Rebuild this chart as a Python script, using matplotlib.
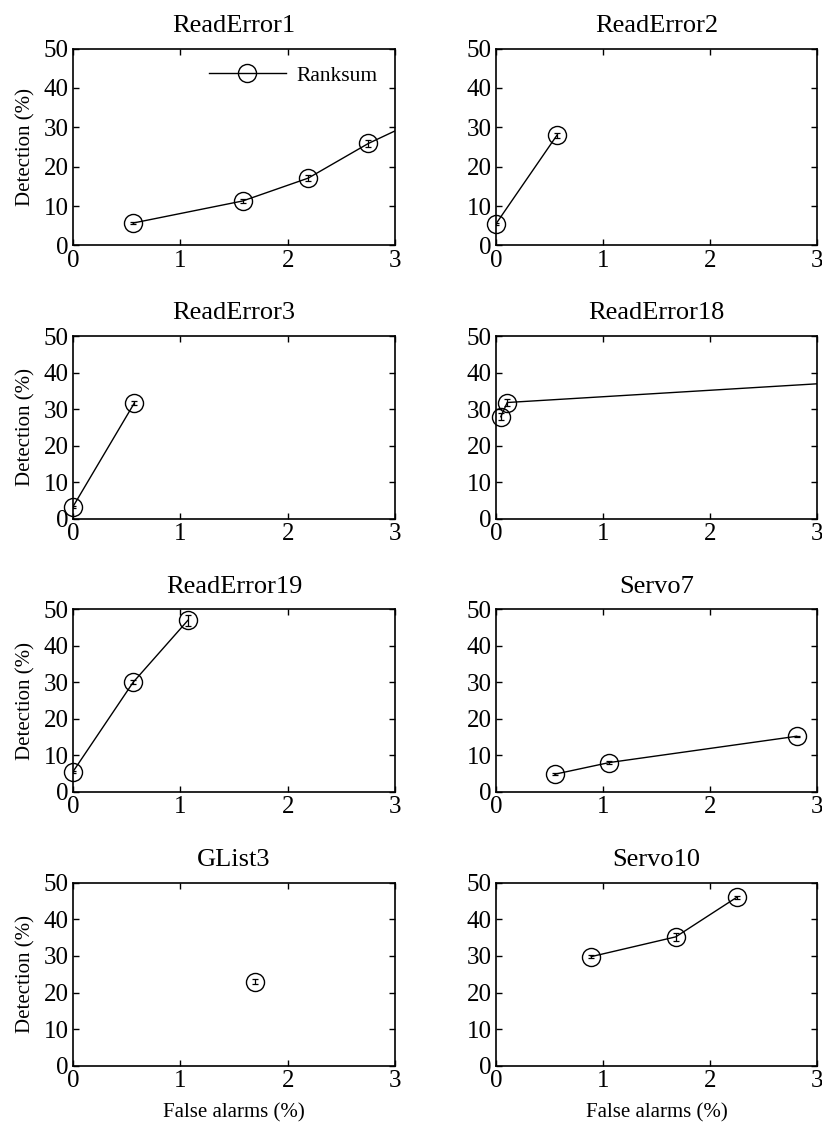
import matplotlib
matplotlib.use("Agg")
import matplotlib.pyplot as plt

plt.rcParams['font.family'] = ['Liberation Serif', 'DejaVu Serif']

# False alarm / detection rates (%) for the Ranksum test on each attribute
titles = ["ReadError1", "ReadError2", "ReadError3", "ReadError18",
          "ReadError19", "Servo7", "GList3", "Servo10"]

fa_readerror1 = [0.56, 1.58, 2.19, 2.75, 3.35]
det_readerror1 = [5.7, 11.3, 17.1, 25.9, 33.6]
err_readerror1 = [0.3, 0.6, 0.8, 1.0, 1.0]

fa_readerror2 = [0.0, 0.57]
det_readerror2 = [5.5, 28.0]
err_readerror2 = [0.3, 0.6]

fa_readerror3 = [0.0, 0.57]
det_readerror3 = [3.3, 31.6]
err_readerror3 = [0.3, 0.5]

fa_readerror18 = [0.045, 0.105, 3.5]
det_readerror18 = [27.9, 31.8, 37.8]
err_readerror18 = [1.0, 1.0, 1.0]

fa_readerror19 = [0.0, 0.56, 1.07]
det_readerror19 = [5.5, 30.0, 47.0]
err_readerror19 = [0.3, 0.5, 1.5]

fa_servo7 = [0.55, 1.06, 2.81]
det_servo7 = [4.8, 8.0, 15.2]
err_servo7 = [0.2, 0.3, 0.2]

fa_glist3 = [1.69]
det_glist3 = [23.0]
err_glist3 = [0.8]

fa_servo10 = [0.89, 1.68, 2.25]
det_servo10 = [29.8, 35.2, 46.0]
err_servo10 = [0.4, 1.0, 0.4]

series = [
    (fa_readerror1, det_readerror1, err_readerror1),
    (fa_readerror2, det_readerror2, err_readerror2),
    (fa_readerror3, det_readerror3, err_readerror3),
    (fa_readerror18, det_readerror18, err_readerror18),
    (fa_readerror19, det_readerror19, err_readerror19),
    (fa_servo7, det_servo7, err_servo7),
    (fa_glist3, det_glist3, err_glist3),
    (fa_servo10, det_servo10, err_servo10),
]

XMAX = 3

fig = plt.figure(figsize=(8.22, 11.23), dpi=100)

# subplot boxes (figure fractions); the first row is a bit taller
col_left = [0.0888, 0.6034]
col_w = [0.392, 0.3905]
row_bottom = [0.7814, 0.5381, 0.2950, 0.0510]
row_h = [0.1754, 0.1627, 0.1624, 0.1630]

for i, (title, (x, y, e)) in enumerate(zip(titles, series)):
    r, c = divmod(i, 2)
    ax = fig.add_axes([col_left[c], row_bottom[r], col_w[c], row_h[r]])
    # line is clipped by the axes, the circles on the border are not
    ax.plot(x, y, '-', color='black', lw=1.0)
    inside = [(a, b) for a, b in zip(x, y) if a <= XMAX]
    ax.plot([p[0] for p in inside], [p[1] for p in inside], 'o', ms=13,
            mfc='none', mec='black', mew=1.0, clip_on=False, zorder=3)
    ax.errorbar(x, y, yerr=e, fmt='none', ecolor='black', elinewidth=0.9,
                capsize=2.5, capthick=0.9)
    ax.set_xlim(0, XMAX)
    ax.set_ylim(0, 50)
    ax.set_xticks([0, 1, 2, 3])
    ax.set_yticks([0, 10, 20, 30, 40, 50])
    ax.tick_params(direction='in', top=True, right=True, length=4,
                   width=1.0, labelsize=18, pad=3)
    for sp in ax.spines.values():
        sp.set_linewidth(1.2)
    ax.set_title(title, fontsize=19, pad=12)
    if c == 0:
        ax.set_ylabel("Detection (%)", fontsize=15, labelpad=6)
    if r == 3:
        ax.set_xlabel("False alarms (%)", fontsize=15, labelpad=8)
    if i == 0:
        ax.plot([], [], '-', color='black', lw=1.0, marker='o', ms=13,
                mfc='none', mec='black', mew=1.0, label='Ranksum')
        ax.legend(loc='upper right', frameon=False, fontsize=15.5,
                  handlelength=3.6, handletextpad=0.5, borderaxespad=0.4)

fig.savefig("out.png", dpi=100)
